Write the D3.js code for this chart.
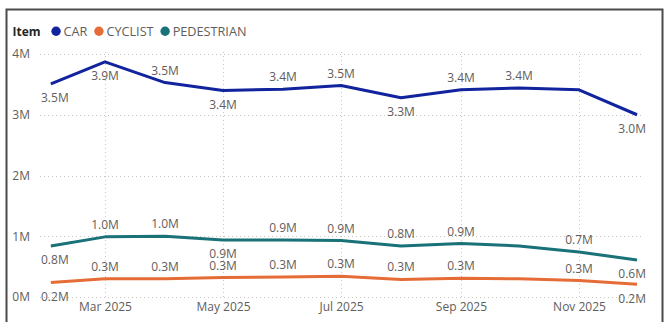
<!DOCTYPE html>
<html>
<head>
<meta charset="utf-8">
<script src="https://cdn.jsdelivr.net/npm/d3@7"></script>
<style>
  html, body { margin: 0; padding: 0; background: #fff; }
  svg { display: block; }
  text { font-family: "Segoe UI", "Open Sans", "Noto Sans", sans-serif; }
</style>
</head>
<body>
<svg id="chart" width="670" height="322"></svg>
<script>
// ---- data ----
const months = ["2025-02-01","2025-03-01","2025-04-01","2025-05-01","2025-06-01","2025-07-01","2025-08-01","2025-09-01","2025-10-01","2025-11-01","2025-12-01"];
const seriesNames = ["CAR", "CYCLIST", "PEDESTRIAN"];
const carValues = [3510000, 3870000, 3530000, 3400000, 3420000, 3480000, 3280000, 3410000, 3440000, 3410000, 3000000];
const cyclistValues = [240000, 300000, 300000, 320000, 330000, 340000, 290000, 310000, 300000, 270000, 210000];
const pedestrianValues = [840000, 990000, 1000000, 940000, 940000, 930000, 840000, 880000, 840000, 740000, 610000];
// label side per point: a = above, b = below, "" = no label
const carLabelSide = ["b","b","a","b","a","a","b","a","a","","b"];
const cyclistLabelSide = ["b","a","a","a","a","a","a","a","","a","b"];
const pedestrianLabelSide = ["b","a","a","b","a","a","a","a","","a","b"];
const yTickValues = [0, 1000000, 2000000, 3000000, 4000000];
const xTickDates = ["2025-03-01","2025-05-01","2025-07-01","2025-09-01","2025-11-01"];
const legendTitle = "Item";

// ---- styles ----
const colors = { CAR: "#12239E", CYCLIST: "#E66C37", PEDESTRIAN: "#197278" };
const textGrey = "#605E5C";
const gridGrey = "#C8C6C4";

const parse = d3.timeParse("%Y-%m-%d");
const dates = months.map(parse);

const series = [
  { name: "PEDESTRIAN", values: pedestrianValues, sides: pedestrianLabelSide },
  { name: "CYCLIST", values: cyclistValues, sides: cyclistLabelSide },
  { name: "CAR", values: carValues, sides: carLabelSide }
];

const svg = d3.select("#chart");

// border
svg.append("rect")
  .attr("x", 6.5).attr("y", 9.5).attr("width", 656).attr("height", 330)
  .attr("fill", "none").attr("stroke", "#4a4a4a").attr("stroke-width", 2);

const plotLeft = 40, plotRight = 643, plotTop = 54, plotBottom = 297;

const x = d3.scaleTime()
  .domain([parse("2025-03-01"), parse("2025-11-01")])
  .range([105, 579]);
const y = d3.scaleLinear().domain([0, 4000000]).range([plotBottom, plotTop]);

// gridlines
const grid = svg.append("g");
grid.selectAll("line.h").data(yTickValues).enter().append("line")
  .attr("x1", plotLeft).attr("x2", plotRight)
  .attr("y1", d => Math.round(y(d)) + 0.5).attr("y2", d => Math.round(y(d)) + 0.5)
  .attr("stroke", gridGrey).attr("stroke-width", 1).attr("stroke-dasharray", "1,3");
grid.selectAll("line.v").data(xTickDates.map(parse)).enter().append("line")
  .attr("x1", d => Math.round(x(d)) + 0.5).attr("x2", d => Math.round(x(d)) + 0.5)
  .attr("y1", plotTop - 2).attr("y2", plotBottom)
  .attr("stroke", gridGrey).attr("stroke-width", 1).attr("stroke-dasharray", "1,3");

// y axis labels
const yAxis = d3.axisLeft(y).tickValues(yTickValues).tickSize(0).tickPadding(0)
  .tickFormat(d => (d / 1000000) + "M");
const gy = svg.append("g").attr("transform", "translate(30,0)").call(yAxis);
gy.select(".domain").remove();
gy.selectAll("text").attr("fill", textGrey).style("font-size", "12px")
  .style("font-family", '"Segoe UI", "Open Sans", sans-serif');

// x axis labels
const xAxis = d3.axisBottom(x).tickValues(xTickDates.map(parse)).tickSize(0).tickPadding(0)
  .tickFormat(d3.timeFormat("%b %Y"));
const gx = svg.append("g").attr("transform", "translate(0,302)").call(xAxis);
gx.select(".domain").remove();
gx.selectAll("text").attr("fill", textGrey).style("font-size", "12px")
  .style("font-family", '"Segoe UI", "Open Sans", sans-serif');

// lines
const line = d3.line().x((d, i) => x(dates[i])).y(d => y(d));
series.forEach(s => {
  svg.append("path").datum(s.values)
    .attr("d", line)
    .attr("fill", "none")
    .attr("stroke", colors[s.name])
    .attr("stroke-width", 3)
    .attr("stroke-linejoin", "round")
    .attr("stroke-linecap", "butt");
});

// data labels
const fmt = v => d3.format(".1f")(v / 1000000) + "M";
const labelG = svg.append("g");
series.forEach(s => {
  s.values.forEach((v, i) => {
    const side = s.sides[i];
    if (!side) return;
    const px = x(dates[i]);
    const py = y(v);
    const t = labelG.append("text")
      .attr("y", side === "a" ? py - 8 : py + 18.5)
      .attr("fill", textGrey)
      .style("font-size", "12px")
      .text(fmt(v));
    const w = t.node().getComputedTextLength();
    let lx = px - w / 2;
    lx = Math.max(plotLeft + 1, Math.min(646 - w, lx));
    t.attr("x", lx);
  });
});

// legend
const lg = svg.append("g").attr("transform", "translate(12.5,36)");
const title = lg.append("text").attr("x", 0).attr("y", 0)
  .attr("fill", "#252423").style("font-size", "12px").style("font-weight", "bold")
  .text(legendTitle);
let cx = title.node().getComputedTextLength() + 15.5;
seriesNames.forEach(n => {
  lg.append("circle").attr("cx", cx).attr("cy", -4.8).attr("r", 4.7).attr("fill", colors[n]);
  const t = lg.append("text").attr("x", cx + 7.5).attr("y", 0)
    .attr("fill", textGrey).style("font-size", "12.7px").text(n);
  cx += 7.5 + t.node().getComputedTextLength() + 11.5;
});
</script>
</body>
</html>
